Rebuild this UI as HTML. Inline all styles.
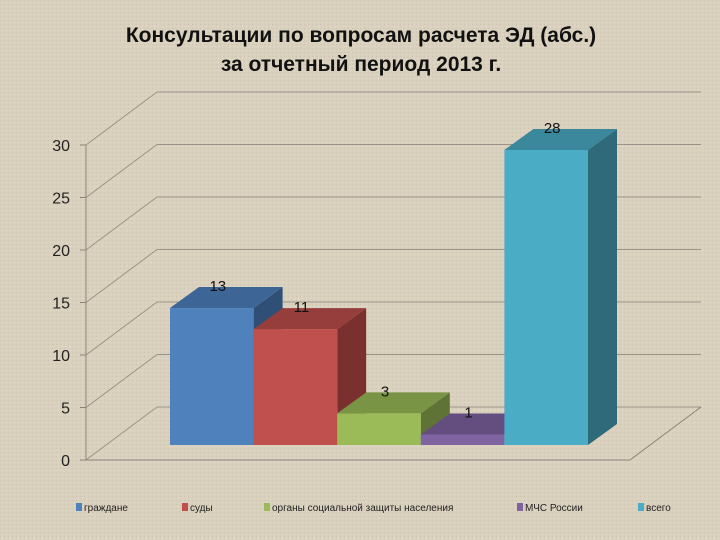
<!DOCTYPE html>
<html><head><meta charset="utf-8"><style>
html,body{margin:0;padding:0;background:#d8cfbd;}
svg{display:block;font-family:"Liberation Sans","DejaVu Sans",sans-serif;}
</style></head><body>
<svg id="chart" width="720" height="540" viewBox="0 0 720 540" xmlns="http://www.w3.org/2000/svg">
<defs>
<pattern id="tex" width="4" height="4" patternUnits="userSpaceOnUse">
<rect width="4" height="4" fill="#d9d0be"/><rect width="1" height="1" fill="#cfc4b0"/><rect x="2" y="2" width="1" height="1" fill="#e4dccb"/>
</pattern>
</defs>
<rect width="720" height="540" fill="url(#tex)"/>
<text x="361" y="42" text-anchor="middle" font-size="21" font-weight="bold" fill="#111">Консультации по вопросам расчета ЭД (абс.)</text>
<text x="361" y="71" text-anchor="middle" font-size="21" font-weight="bold" fill="#111">за отчетный период 2013 г.</text>
<g id="grid"></g>
<g id="bars"></g>
<g id="legend"></g>
</svg>
<script>
const categories=["граждане","суды","органы социальной защиты населения","МЧС России","всего"];
const values=[13,11,3,1,28];
const ticks=[0,5,10,15,20,25,30];
const fronts=["#4f81bd","#c0504d","#9bbb59","#8064a2","#4bacc6"];
const tops=["#3d6595","#963e3b","#7a9446","#644e80","#3b879c"];
const sides=["#2f4f76","#7a302e","#5f7336","#4e3e64","#2e6a7a"];
const NS="http://www.w3.org/2000/svg";
const y0=460,unit=10.5,ax=86,bx=71,by=-53,rightX=630;
const yv=v=>y0-v*unit;
function mk(tag,attrs,parent){const e=document.createElementNS(NS,tag);for(const k in attrs)e.setAttribute(k,attrs[k]);parent.appendChild(e);return e;}
const grid=document.getElementById('grid');
mk('line',{x1:ax,y1:yv(0),x2:ax,y2:yv(30),stroke:'#8a8478'},grid);
ticks.forEach(t=>{
 const y=yv(t);
 const l=mk('line',{x1:ax,y1:y,x2:ax+bx,y2:y+by,stroke:'#9a9488'},grid);
 
 
 const g=mk('line',{x1:ax+bx,y1:y+by,x2:rightX+bx,y2:y+by,stroke:'#9a9488'},grid);
 
 
 mk('line',{x1:ax-6,y1:y,x2:ax,y2:y,stroke:'#8a8478'},grid);
 const tx=mk('text',{x:ax-16,y:y+6,'text-anchor':'end','font-size':16,fill:'#222'},grid);
 tx.textContent=t;
 
 
});
mk('line',{x1:ax,y1:y0,x2:rightX,y2:y0,stroke:'#8a8478'},grid);
mk('line',{x1:rightX,y1:y0,x2:rightX+bx,y2:y0+by,stroke:'#8a8478'},grid);
const bars=document.getElementById('bars');
const bx0=170,bw=83.6,base=445,dx=29,dy=-21;
values.forEach((v,i)=>{
 const x=bx0+i*bw,top=base-v*unit*(295/(28*unit));
 const g=mk('g',{},bars);
 
 
 mk('polygon',{points:`${x+bw},${base} ${x+bw+dx},${base+dy} ${x+bw+dx},${top+dy} ${x+bw},${top}`,fill:sides[i]},g);
 mk('polygon',{points:`${x},${top} ${x+dx},${top+dy} ${x+bw+dx},${top+dy} ${x+bw},${top}`,fill:tops[i]},g);
 mk('rect',{x:x,y:top,width:bw,height:base-top,fill:fronts[i]},g);
 const t=mk('text',{x:x+bw/2+6,y:top+dy+4,'text-anchor':'middle','font-size':15,fill:'#111'},g);
 t.textContent=v;
 
 
});
const leg=document.getElementById('legend');
const lx=[76,182,264,517,638];
categories.forEach((c,i)=>{
 const g=mk('g',{},leg);
 
 
 mk('rect',{x:lx[i],y:503,width:6,height:8,fill:fronts[i]},g);
 const t=mk('text',{x:lx[i]+8,y:511,'font-size':10,fill:'#222'},g);
 t.textContent=c;
});
</script>
</body></html>
